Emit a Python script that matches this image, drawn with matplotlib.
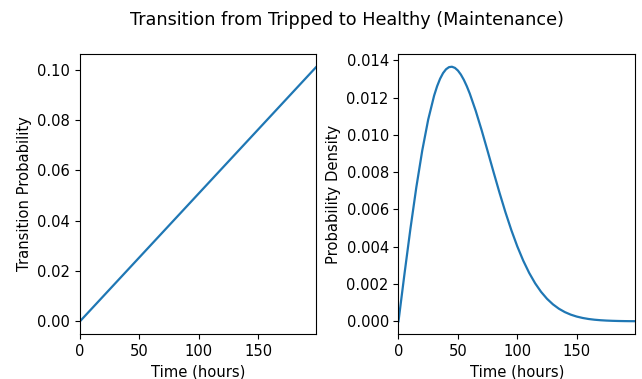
import numpy as np
import matplotlib
matplotlib.use("Agg")
import matplotlib.pyplot as plt

# transition probability (linear rise over the time window)
prob_time = [0, 199]
prob_values = [0.0, 0.1012]

# maintenance time density, sampled every 5 hours (2.5 around the peak)
dens_time = [0, 5, 10, 15, 20, 25, 30, 32.5, 35, 37.5, 40, 42.5, 45, 47.5, 50,
             52.5, 55, 57.5, 60, 65, 70, 75, 80,
             85, 90, 95, 100, 105, 110, 115, 120, 125, 130, 135, 140, 145, 150,
             155, 160, 165, 170, 175, 180, 185, 190, 195, 199]
dens_values = [0.0, 0.002520, 0.004944, 0.007185, 0.009164, 0.010820, 0.012110,
               0.012610, 0.013010, 0.013313, 0.013520, 0.013634, 0.013656,
               0.013594, 0.013452, 0.013236, 0.012953, 0.012610, 0.012214,
               0.011291, 0.010247, 0.009135, 0.008006, 0.006901, 0.005853,
               0.004886, 0.004017, 0.003252, 0.002594, 0.002039, 0.001579,
               0.001206, 0.000908, 0.000674, 0.000493, 0.000356, 0.000253,
               0.000178, 0.000123, 0.000084, 0.000057, 0.000038, 0.000025,
               0.000016, 0.000010, 0.000006, 0.000004]

plt.rcParams["font.size"] = 10.6
plt.rcParams["lines.linewidth"] = 1.6

fig, (ax1, ax2) = plt.subplots(1, 2, figsize=(6.42, 3.79), dpi=100)
fig.subplots_adjust(left=0.1246, right=0.989, top=0.8575, bottom=0.1187, wspace=0.347)
fig.suptitle("Transition from Tripped to Healthy (Maintenance)", x=0.540, y=0.972,
             fontsize=12.7)

ax1.plot(prob_time, prob_values)
ax1.set_xlim(prob_time[0], prob_time[-1])
ax1.set_xlabel("Time (hours)")
ax1.set_ylabel("Transition Probability")

ax2.plot(dens_time, dens_values)
ax2.set_xlim(dens_time[0], dens_time[-1])
ax2.set_xlabel("Time (hours)")
ax2.set_ylabel("Probability Density")

fig.savefig("out.png")
